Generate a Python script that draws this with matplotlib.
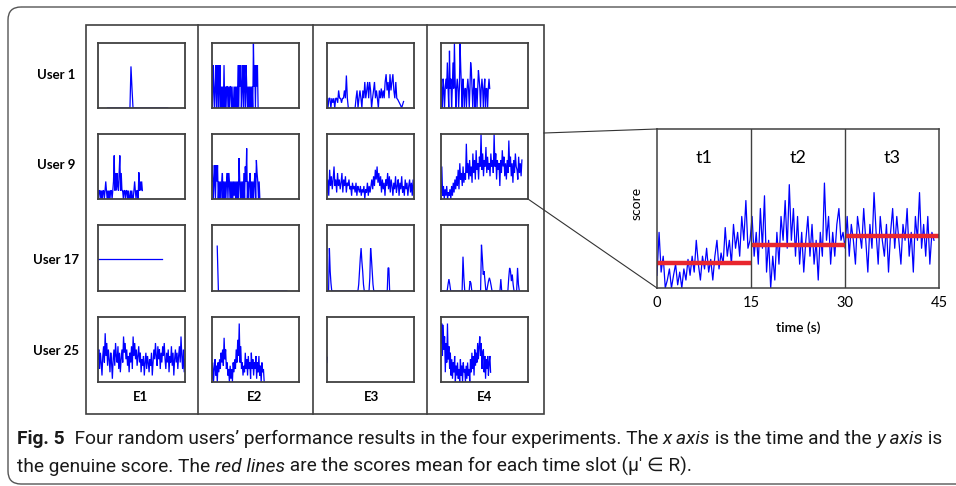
import numpy as np
import matplotlib
matplotlib.use("Agg")
from matplotlib import pyplot as plt
from matplotlib.patches import FancyBboxPatch, Rectangle

# ---- data (scores as fraction of panel height, spans as fraction of panel time) ----
users = ["User 1", "User 9", "User 17", "User 25"]
experiments = ["E1", "E2", "E3", "E4"]

u1e1 = [0.0] * 23 + [0.64, 0.3] + [0.0] * 35
u1e2 = [0.66, 0.0, 0.66, 0.33, 0.0, 0.33, 0.66, 0.0, 0.33, 0.66,
        0.0, 0.33, 0.66, 0.0, 0.33, 0.0, 0.33, 0.0, 0.66, 0.0,
        0.33, 0.0, 0.33, 0.33, 0.0, 0.33, 0.0, 0.33, 0.33, 0.0,
        0.33, 0.0, 0.0, 0.33, 0.0, 0.33, 0.0, 0.33, 0.0, 0.66,
        0.0, 0.66, 0.33, 0.66, 0.0, 0.33, 0.66, 0.0, 0.66, 0.33,
        0.0, 0.66, 0.33, 0.0, 0.33, 0.0, 0.33, 0.0, 0.33, 0.0,
        0.33, 0.0, 1.0, 0.33, 0.66, 0.0, 0.66, 0.33, 0.66, 0.0]
u1e3 = [0.15, 0.0, 0.15, 0.15, 0.0, 0.15, 0.08, 0.15, 0.0, 0.15,
        0.15, 0.08, 0.27, 0.15, 0.15, 0.08, 0.15, 0.15, 0.27, 0.15,
        0.5, 0.15, 0.0, 0.0, 0.0, 0.0, 0.0, 0.0, 0.0, 0.0,
        0.15, 0.27, 0.0, 0.15, 0.27, 0.15, 0.0, 0.27, 0.15, 0.4,
        0.15, 0.27, 0.4, 0.15, 0.4, 0.27, 0.0, 0.15, 0.27, 0.4,
        0.15, 0.27, 0.15, 0.0, 0.27, 0.15, 0.3, 0.15, 0.27, 0.15,
        0.4, 0.52, 0.27, 0.4, 0.15, 0.52, 0.27, 0.4, 0.52, 0.27,
        0.15, 0.4, 0.15, 0.13, 0.1, 0.07, 0.04, 0.0, 0.05, 0.1]
u1e4 = [0.45, 0.3, 0.0, 0.45, 0.3, 0.0, 0.3, 0.45, 0.3, 0.7,
        0.3, 0.0, 0.88, 0.3, 0.45, 0.0, 0.3, 0.7, 0.3, 1.0,
        0.45, 0.0, 0.3, 0.45, 0.3, 0.0, 0.3, 1.0, 0.6, 0.3,
        0.0, 0.45, 0.3, 0.0, 0.3, 0.3, 0.0, 0.3, 0.45, 0.3,
        0.0, 0.3, 0.7, 0.58, 0.3, 0.0, 0.3, 0.45, 0.0, 0.3,
        0.3, 0.0, 0.3, 0.58, 0.45, 0.3, 0.0, 0.3, 0.45, 0.3,
        0.0, 0.3, 0.45, 0.0, 0.3, 0.3, 0.0, 0.3, 0.45, 0.3]
u2e1 = [0.13, 0.0, 0.13, 0.13, 0.0, 0.13, 0.0, 0.13, 0.13, 0.0,
        0.13, 0.27, 0.13, 0.0, 0.13, 0.0, 0.13, 0.0, 0.13, 0.13,
        0.0, 0.13, 0.27, 0.67, 0.13, 0.4, 0.13, 0.4, 0.2, 0.13,
        0.4, 0.67, 0.13, 0.4, 0.13, 0.13, 0.0, 0.13, 0.13, 0.0,
        0.13, 0.13, 0.0, 0.13, 0.0, 0.0, 0.13, 0.0, 0.13, 0.0,
        0.0, 0.13, 0.27, 0.13, 0.0, 0.13, 0.13, 0.0, 0.41, 0.13,
        0.27, 0.13, 0.27, 0.13]
u2e2 = [0.27, 0.52, 0.0, 0.27, 0.52, 0.0, 0.52, 0.27, 0.52, 0.0,
        0.27, 0.0, 0.27, 0.0, 0.27, 0.4, 0.0, 0.27, 0.0, 0.27,
        0.0, 0.27, 0.4, 0.0, 0.4, 0.27, 0.0, 0.27, 0.0, 0.27,
        0.0, 0.27, 0.05, 0.27, 0.0, 0.27, 0.0, 0.27, 0.0, 0.63,
        0.27, 0.0, 0.27, 0.0, 0.27, 0.0, 0.4, 0.0, 0.5, 0.27,
        0.78, 0.0, 0.27, 0.0, 0.27, 0.4, 0.0, 0.27, 0.0, 0.27,
        0.0, 0.27, 0.4, 0.0, 0.6, 0.4, 0.27, 0.0, 0.27, 0.0]
u2e3 = [0.1, 0.3, 0.05, 0.45, 0.2, 0.35, 0.15, 0.3, 0.5, 0.2,
        0.3, 0.1, 0.4, 0.2, 0.3, 0.15, 0.25, 0.4, 0.1, 0.3,
        0.2, 0.35, 0.1, 0.25, 0.2, 0.3, 0.15, 0.2, 0.05, 0.25,
        0.15, 0.2, 0.1, 0.25, 0.05, 0.2, 0.15, 0.1, 0.2, 0.05,
        0.15, 0.1, 0.2, 0.0, 0.15, 0.1, 0.25, 0.05, 0.2, 0.1,
        0.2, 0.3, 0.15, 0.35, 0.2, 0.45, 0.3, 0.5, 0.25, 0.4,
        0.2, 0.35, 0.1, 0.3, 0.15, 0.25, 0.05, 0.3, 0.2, 0.4,
        0.15, 0.35, 0.1, 0.3, 0.2, 0.05, 0.25, 0.15, 0.35, 0.1,
        0.2, 0.3, 0.05, 0.25, 0.15, 0.35, 0.1, 0.2, 0.05, 0.3,
        0.15, 0.25, 0.05, 0.2, 0.3, 0.1, 0.25, 0.05, 0.3, 0.15]
u2e4 = [0.1, 0.5, 0.05, 0.2, 0.0, 0.15, 0.05, 0.2, 0.0, 0.1,
        0.05, 0.15, 0.0, 0.2, 0.05, 0.25, 0.1, 0.3, 0.15, 0.35,
        0.2, 0.45, 0.15, 0.55, 0.3, 0.4, 0.2, 0.5, 0.25, 0.4,
        0.3, 0.85, 0.4, 0.55, 0.3, 0.6, 0.35, 0.5, 0.25, 0.7,
        0.4, 0.6, 0.3, 0.75, 0.45, 0.55, 0.3, 0.65, 0.5, 1.0,
        0.45, 0.7, 0.35, 0.6, 0.5, 0.8, 0.4, 0.65, 0.45, 0.55,
        0.35, 0.7, 0.5, 0.6, 0.4, 1.0, 0.5, 0.7, 0.3, 0.6,
        0.45, 0.55, 0.2, 0.6, 0.4, 0.75, 0.5, 0.65, 0.35, 0.55,
        0.3, 0.6, 0.4, 0.9, 0.5, 0.65, 0.35, 0.55, 0.25, 0.6,
        0.4, 0.7, 0.5, 0.45, 0.3, 0.65, 0.4, 0.55, 0.35, 0.6]
u3e1 = [0.49, 0.49]
u3e2 = [0.68] + [0.0] * 59
u3e3 = [0.0, 0.0, 0.0, 0.65, 0.3, 0.12, 0.0, 0.0, 0.0, 0.0,
        0.0, 0.0, 0.0, 0.0, 0.0, 0.0, 0.0, 0.0, 0.0, 0.0,
        0.0, 0.0, 0.0, 0.0, 0.0, 0.0, 0.0, 0.0, 0.0, 0.0,
        0.0, 0.0, 0.0, 0.0, 0.0, 0.0, 0.0, 0.0, 0.0, 0.0,
        0.1, 0.3, 0.5, 0.65, 0.45, 0.3, 0.1, 0.0, 0.0, 0.0,
        0.0, 0.0, 0.0, 0.0, 0.2, 0.65, 0.5, 0.3, 0.1, 0.0,
        0.0, 0.0, 0.0, 0.0, 0.0, 0.0, 0.0, 0.0, 0.0, 0.0,
        0.0, 0.0, 0.0, 0.0, 0.0, 0.0, 0.0, 0.35, 0.35, 0.0]
u3e4 = [0.0, 0.0, 0.0, 0.0, 0.0, 0.0, 0.0, 0.0, 0.1, 0.18,
        0.1, 0.0, 0.0, 0.0, 0.0, 0.0, 0.0, 0.0, 0.0, 0.0,
        0.0, 0.0, 0.0, 0.0, 0.0, 0.52, 0.2, 0.0, 0.0, 0.0,
        0.0, 0.0, 0.0, 0.15, 0.12, 0.0, 0.0, 0.0, 0.0, 0.0,
        0.0, 0.0, 0.0, 0.0, 0.0, 0.0, 0.7, 0.5, 0.25, 0.3,
        0.15, 0.0, 0.0, 0.08, 0.15, 0.2, 0.15, 0.08, 0.0, 0.0,
        0.0, 0.0, 0.0, 0.0, 0.0, 0.0, 0.0, 0.0, 0.18, 0.0,
        0.0, 0.0, 0.0, 0.0, 0.0, 0.0, 0.0, 0.2, 0.35, 0.3,
        0.15, 0.25, 0.1, 0.0, 0.0, 0.0, 0.0, 0.35, 0.1, 0.0]
u4e1 = [0.35, 0.5, 0.2, 0.45, 0.3, 0.1, 0.4, 0.55, 0.3, 0.75,
        0.4, 0.6, 0.25, 0.5, 0.35, 0.15, 0.45, 0.3, 0.05, 0.35,
        0.5, 0.25, 0.6, 0.4, 0.3, 0.55, 0.2, 0.45, 0.15, 0.35,
        0.5, 0.3, 0.7, 0.45, 0.6, 0.35, 0.5, 0.25, 0.4, 0.15,
        0.45, 0.3, 0.55, 0.2, 0.7, 0.4, 0.6, 0.35, 0.5, 0.25,
        0.4, 0.55, 0.3, 0.45, 0.15, 0.35, 0.25, 0.4, 0.1, 0.3,
        0.45, 0.2, 0.4, 0.3, 0.15, 0.35, 0.25, 0.45, 0.1, 0.3,
        0.5, 0.35, 0.6, 0.4, 0.25, 0.55, 0.35, 0.5, 0.2, 0.45,
        0.3, 0.55, 0.4, 0.6, 0.35, 0.2, 0.45, 0.3, 0.5, 0.15,
        0.4, 0.3, 0.55, 0.25, 0.45, 0.1, 0.35, 0.5, 0.3, 0.45,
        0.2, 0.4, 0.55, 0.3, 0.7, 0.4, 0.2, 0.5, 0.15, 0.35]
u4e2 = [0.05, 0.3, 0.0, 0.2, 0.35, 0.1, 0.25, 0.0, 0.3, 0.15,
        0.35, 0.2, 0.45, 0.3, 0.5, 0.25, 0.68, 0.35, 0.5, 0.2,
        0.3, 0.1, 0.2, 0.0, 0.25, 0.05, 0.2, 0.0, 0.3, 0.15,
        0.35, 0.2, 0.5, 0.3, 0.65, 0.4, 0.9, 0.3, 0.55, 0.2,
        0.3, 0.1, 0.25, 0.15, 0.45, 0.2, 0.35, 0.1, 0.4, 0.2,
        0.3, 0.05, 0.45, 0.2, 0.35, 0.1, 0.3, 0.2, 0.4, 0.05,
        0.3, 0.15, 0.4, 0.1, 0.25, 0.0, 0.3, 0.15, 0.2, 0.0]
u4e3 = [0.3, 0.38]
u4e4 = [0.6, 0.9, 0.4, 0.88, 0.5, 0.7, 0.15, 0.6, 0.3, 0.9,
        0.35, 0.55, 0.2, 0.45, 0.1, 0.35, 0.05, 0.3, 0.15, 0.4,
        0.0, 0.25, 0.1, 0.3, 0.05, 0.2, 0.0, 0.35, 0.1, 0.25,
        0.0, 0.3, 0.15, 0.2, 0.0, 0.25, 0.05, 0.3, 0.1, 0.2,
        0.0, 0.35, 0.15, 0.45, 0.2, 0.4, 0.1, 0.5, 0.25, 0.45,
        0.3, 0.6, 0.35, 0.55, 0.7, 0.4, 0.6, 0.2, 0.45, 0.5,
        0.15, 0.4, 0.05, 0.35, 0.2, 0.4, 0.1, 0.3, 0.4, 0.15]

series = [[u1e1, u1e2, u1e3, u1e4],
          [u2e1, u2e2, u2e3, u2e4],
          [u3e1, u3e2, u3e3, u3e4],
          [u4e1, u4e2, u4e3, u4e4]]
spans = [[(0.11, 0.80), (0.0, 0.53), (0.0, 0.88), (0.0, 0.56)],
         [(0.0, 0.51), (0.0, 0.55), (0.0, 1.0), (0.0, 0.93)],
         [(0.0, 0.74), (0.06, 0.86), (0.0, 0.72), (0.0, 0.90)],
         [(0.0, 1.0), (0.0, 0.60), (0.0, 0.004), (0.0, 0.57)]]

# zoomed view: User 9 / E4, 45 s split in three slots
zoom_t1 = [0.08, 0.35, 0.1, 0.2, 0.0, 0.05, 0.12, 0.0, 0.08, 0.15,
           0.02, 0.1, 0.0, 0.12, 0.05, 0.18, 0.08, 0.2, 0.1, 0.3,
           0.15, 0.05, 0.2, 0.12, 0.25, 0.1, 0.18, 0.05, 0.2, 0.3,
           0.12, 0.22, 0.15, 0.38, 0.2, 0.3, 0.15, 0.4, 0.25, 0.35,
           0.2, 0.45, 0.3, 0.55, 0.25]
zoom_t2 = [0.3, 0.45, 0.2, 0.35, 0.15, 0.5, 0.25, 0.58, 0.1, 0.3,
           0.0, 0.2, 0.05, 0.35, 0.15, 0.45, 0.3, 0.55, 0.25, 0.65,
           0.3, 0.5, 0.2, 0.45, 0.15, 0.35, 0.1, 0.3, 0.45, 0.2,
           0.4, 0.15, 0.3, 0.05, 0.35, 0.2, 0.66, 0.3, 0.45, 0.15,
           0.35, 0.2, 0.4, 0.5, 0.3]
zoom_t3 = [0.35, 0.25, 0.45, 0.2, 0.4, 0.3, 0.15, 0.45, 0.35, 0.25,
           0.5, 0.3, 0.1, 0.4, 0.25, 0.6, 0.35, 0.15, 0.45, 0.3,
           0.2, 0.4, 0.1, 0.35, 0.5, 0.25, 0.45, 0.3, 0.15, 0.4,
           0.3, 0.5, 0.2, 0.35, 0.1, 0.45, 0.3, 0.6, 0.25, 0.4,
           0.2, 0.45, 0.15, 0.35, 0.3]
slot_edges = [0, 15, 30, 45]
slot_names = ["t1", "t2", "t3"]
slot_means = [0.16, 0.27, 0.33]

BLUE = "#0000ff"
RED = "#e8262e"
EDGE = "#404040"
W, H = 956, 486

fig = plt.figure(figsize=(W / 100, H / 100), dpi=100)
bg = fig.add_axes([0, 0, 1, 1])
bg.set_xlim(0, W)
bg.set_ylim(H, 0)
bg.axis("off")


def px_axes(x0, y0, x1, y1):
    return fig.add_axes([x0 / W, 1 - y1 / H, (x1 - x0) / W, (y1 - y0) / H])


# outer rounded frame
bg.add_patch(FancyBboxPatch((8, 7), 990, 477, boxstyle="round,pad=0,rounding_size=13",
                            fill=False, ec="#555555", lw=1.0))
# table
bg.add_patch(Rectangle((86, 25), 458, 389, fill=False, ec=EDGE, lw=1.2))
for xc in [198, 313, 427]:
    bg.plot([xc, xc], [25, 414], color=EDGE, lw=1.2)

col_px = [(98, 185), (212, 299), (327, 414), (441, 528)]
row_px = [(43, 108), (134, 199), (225, 291), (317, 382)]
row_lab_y = [75, 165, 260, 351]
col_lab_x = [141, 255, 372, 485]

for r in range(4):
    bg.text(56, row_lab_y[r], users[r], ha="center", va="center",
            fontsize=9.5, fontweight="bold", family="Lato")
    for c in range(4):
        ax = px_axes(col_px[c][0], row_px[r][0], col_px[c][1], row_px[r][1])
        y = series[r][c]
        x = np.linspace(spans[r][c][0], spans[r][c][1], len(y))
        ax.plot(x, y, color=BLUE, lw=0.9, solid_joinstyle="miter")
        ax.set_xlim(0, 1)
        ax.set_ylim(0, 1)
        ax.set_xticks([])
        ax.set_yticks([])
        for s in ax.spines.values():
            s.set_color(EDGE)
            s.set_linewidth(1.3)
for c in range(4):
    bg.text(col_lab_x[c], 397, experiments[c], ha="center", va="center",
            fontsize=9.5, fontweight="bold", family="Lato")

# connectors to the zoomed view
bg.plot([544, 657], [133, 129], color="#333333", lw=0.8)
bg.plot([528, 657], [199, 288], color="#333333", lw=0.8)

# zoomed view
bz = px_axes(657, 129, 939, 288)
zoom_all = zoom_t1 + zoom_t2 + zoom_t3
bz.plot(np.linspace(0, 44.2, len(zoom_all)), zoom_all, color=BLUE, lw=0.9)
for i in range(3):
    bz.plot([slot_edges[i], slot_edges[i + 1]], [slot_means[i]] * 2, color=RED, lw=3.2,
            solid_capstyle="butt")
    bz.text((slot_edges[i] + slot_edges[i + 1]) / 2, 0.82, slot_names[i], ha="center",
            va="center", fontsize=13, family="Lato")
for e in slot_edges[1:3]:
    bz.axvline(e, color=EDGE, lw=1.0)
bz.set_xlim(0, 45)
bz.set_ylim(0, 1)
bz.set_xticks(slot_edges)
bz.set_xticklabels([str(v) for v in slot_edges], fontsize=10.5, family="Lato")
bz.set_yticks([])
bz.tick_params(length=0, pad=6)
bz.set_xlabel("time (s)", fontsize=10, family="Lato", fontweight="semibold", labelpad=8)
bz.set_ylabel("score", fontsize=10, family="Lato", labelpad=4)
bz.yaxis.set_label_coords(-0.05, 0.53)
for s in bz.spines.values():
    s.set_color(EDGE)
    s.set_linewidth(1.1)

# caption with mixed styles
cap_font = ["Roboto", "DejaVu Sans"]
line1 = [("Fig. 5", "normal", "bold"),
         ("  Four random users\u2019 performance results in the four experiments. The ", "normal", "normal"),
         ("x axis", "italic", "normal"),
         (" is the time and the ", "normal", "normal"),
         ("y axis", "italic", "normal"),
         (" is", "normal", "normal")]
line2 = [("the genuine score. The ", "normal", "normal"),
         ("red lines", "italic", "normal"),
         (" are the scores mean for each time slot (\u03bc\u2032 \u2208 R).", "normal", "normal")]

renderer = fig.canvas.get_renderer()


def draw_runs(x, y, runs, size):
    made = []
    for txt, style, weight in runs:
        t = bg.text(x, y, txt, fontsize=size, style=style, fontweight=weight,
                    family=cap_font, va="baseline", ha="left", color="#1a1a1a")
        x += t.get_window_extent(renderer).width
        made.append(t)
    return made, x


trial, x_end = draw_runs(17, 444, line1, 10)
for t in trial:
    t.remove()
size = 10 * (946 - 17) / (x_end - 17)
draw_runs(17, 444, line1, size)
draw_runs(17, 472, line2, size)

fig.savefig("out.png", dpi=100)
